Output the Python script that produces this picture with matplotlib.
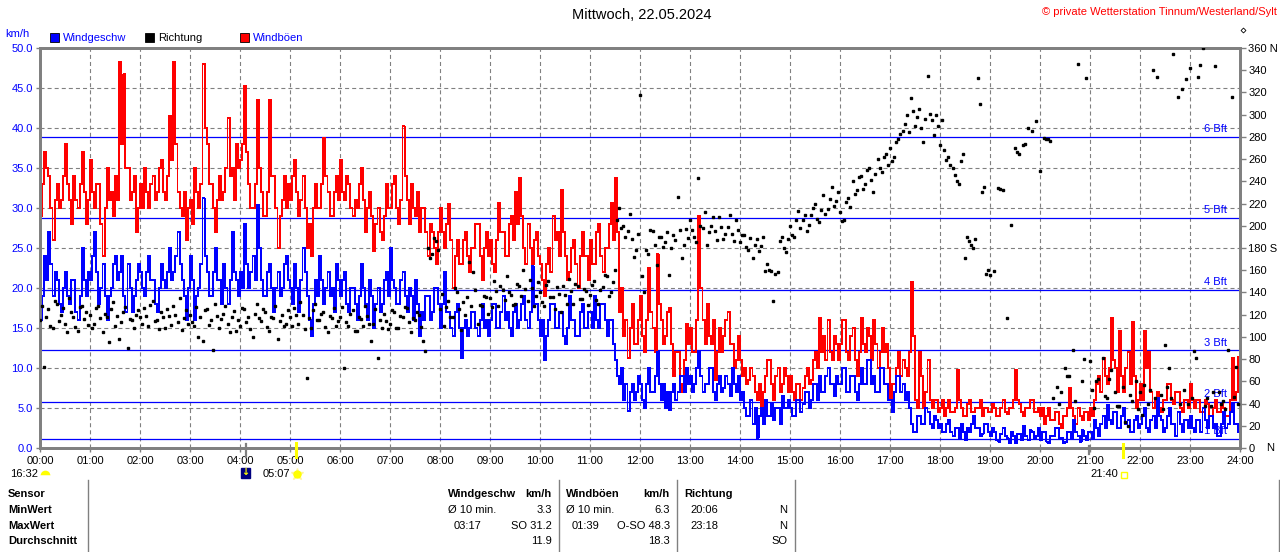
import numpy as np
import matplotlib
matplotlib.use('Agg')
import matplotlib.pyplot as plt
from matplotlib.lines import Line2D
from matplotlib.patches import Rectangle

plt.rcParams['font.family'] = ['Liberation Sans', 'DejaVu Sans']
plt.rcParams['lines.scale_dashes'] = False

nan = float('nan')

# ---------------- data (2.5-minute values, two lines per hour) ----------------
speed_kmh = [
    16, 19, 24, 21, 27, 23, 19, 22, 21, 18, 17, 20,  # 00
    22, 19, 18, 21, 21, 17, 16, 19, 25, 21, 19, 22,
    21, 24, 27, 22, 18, 20, 23, 19, 16, 19, 20, 23,  # 01
    24, 21, 22, 24, 19, 17, 23, 20, 17, 19, 21, 23,
    22, 20, 19, 22, 24, 21, 21, 18, 17, 20, 23, 21,  # 02
    20, 22, 25, 21, 22, 24, 27, 23, 21, 19, 16, 20,
    24, 21, 16, 19, 20, 23, 31.2, 24, 22, 19, 19, 22,  # 03
    25, 21, 21, 18, 23, 20, 18, 21, 27, 22, 21, 19,
    22, 20, 28, 23, 20, 22, 24, 21, 30.4, 25, 21, 19,  # 04
    19, 22, 23, 20, 17, 20, 22, 19, 20, 23, 24, 21,
    20, 18, 23, 20, 17, 21, 25, 22, 19, 16, 14, 18,  # 05
    21, 19, 24, 21, 18, 20, 22, 19, 20, 17, 23, 21,
    19, 21, 22, 18, 17, 20, 20, 18, 16, 19, 23, 20,  # 06
    18, 16, 21, 19, 15, 18, 20, 17, 18, 21, 22, 19,
    25, 21, 20, 18, 18, 21, 22, 19, 17, 20, 19, 16,  # 07
    21, 18, 14, 17, 16, 19, 19, 16, 17, 20, 20, 18,
    15, 18, 22, 17, 17, 15, 14, 17, 18, 15, 11.3, 15,  # 08
    16, 14, 15, 17, 17, 15, 14, 16, 18, 15, 16, 14,
    16, 18, 18, 15, 15, 17, 19, 16, 17, 15, 14, 17,  # 09
    18, 15, 16, 18, 19, 16, 15, 17, 22.7, 18, 18, 16,
    14, 16, 11, 14, 16, 18, 18, 15, 15, 17, 17, 14,  # 10
    13, 15, 19, 16, 16, 14, 14, 17, 18, 15, 15, 17,
    17, 15, 19, 16, 15, 18, 18, 16, 14, 16, 16, 13,  # 11
    11, 9, 8, 10, 6, 8, 4.6, 7, 8, 6, 7, 9,
    8, 6, 5, 8, 10, 7, 7, 9, 12, 8, 6, 8,  # 12
    5, 7, 4.8, 7, 8, 6, 7, 9, 9, 7, 10, 8,
    9, 7, 8, 10, 12, 9, 7, 8, 8, 10, 10, 7,  # 13
    6, 8, 9, 7, 7.5, 9, 8, 6.5, 10, 8, 7, 9,
    6, 7, 5, 4, 4, 6, 3, 5, 1.3, 4, 5, 3,  # 14
    6, 4, 4, 5.5, 3.5, 5, 5, 3, 6.5, 5, 5, 6,
    5, 4, 4, 6, 6, 4.5, 5.5, 7, 7, 5, 6, 8,  # 15
    8, 6, 9, 7, 7, 9, 10, 8, 8, 6.5, 9, 8,
    8, 10, 10, 7, 7, 9, 9, 7, 6, 8, 10, 8,  # 16
    8, 11, 11, 8, 9, 7, 7, 10, 10, 8, 8, 6,
    6, 4.5, 7, 9, 9, 7, 8, 6, 7, 5, 3, 2,  # 17
    2, 4, 4, 3, 3, 5, 4.5, 3, 2.5, 4, 3.5, 2.5,
    3, 2, 2, 3, 3.5, 2, 1.5, 2.5, 2.5, 1.2, 3, 2,  # 18
    1, 2.5, 2, 3, 4, 2.5, 2.5, 1.5, 1.8, 3, 3, 2,
    1.5, 2.5, 2, 1, 0.8, 1.8, 2.5, 1.5, 1.2, 0.6, 2, 1.5,  # 19
    0.6, 1.8, 1.8, 1, 2.8, 1.5, 1, 2.2, 2, 1.2, 1.5, 2.5,
    1, 2, 2, 0.8, 0.6, 1.5, 1.5, 2.5, 2.5, 1.2, 1.2, 0.6,  # 20
    0.8, 2, 2, 1.2, 3.5, 2, 1.5, 0.8, 2.2, 1.5, 1, 2,
    2, 1.2, 3.5, 2.5, 1.5, 3, 4, 2.5, 5.4, 3.5, 3, 4.5,  # 21
    4.5, 2.5, 2.5, 4, 5, 3, 3.5, 2, 2, 3.5, 4, 2.5,
    3, 4, 5, 2.5, 2, 3.5, 4, 2.5, 6.25, 4, 3.5, 2,  # 22
    2.5, 4, 5, 3, 3, 1.5, 4.5, 3, 2, 3.5, 3.5, 2.5,
    4, 2.5, 2, 3.5, 3.5, 2, 5, 3.5, 2.5, 4, 4, 2.5,  # 23
    3, 1.5, 1.5, 3, 4.5, 2.5, 3, 4.5, 5.5, 3, 3, 2,
]

gust_kmh = [
    29, 33, 37, 35, 34, 30, 26, 31, 33, 30, 31, 34,  # 00
    38, 33, 31, 28, 34, 31, 30, 33, 37, 32, 28, 31,
    36, 32, 30, 33, 33, 28, 24, 30, 35, 31, 32, 29,  # 01
    34, 31, 48.3, 38, 46.7, 35, 35, 31, 32, 34, 27, 30,
    33, 30, 35, 32, 30, 33, 34, 31, 32, 35, 36, 32,  # 02
    31, 34, 41.5, 36, 48.3, 38, 32, 30, 29, 32, 26, 30,
    31, 28, 35, 32, 30, 33, 48, 40, 38, 33, 33, 30,  # 03
    27, 31, 34, 31, 32, 35, 41.3, 34, 35, 31, 38, 35,
    36, 38, 45.2, 37, 33, 30, 30, 33, 43.5, 35, 32, 29,  # 04
    29, 32, 43.5, 34, 34, 30, 25, 29, 31, 34, 30, 33,
    31, 34, 36, 32, 29, 31, 34, 30, 25, 28, 24, 30,  # 05
    33, 30, 30, 33, 38.8, 34, 32, 29, 29, 32, 34, 31,
    36, 32, 31, 34, 33, 30, 29, 31, 30, 33, 35, 31,  # 06
    27, 30, 32, 29, 24.6, 28, 30, 27, 26, 29, 33, 30,
    30, 33, 34, 30, 28, 31, 40.2, 34, 31, 28, 33, 30,  # 07
    29, 32, 27, 30, 30, 27, 24, 28, 27, 25, 23, 27,
    30, 27, 25, 28, 30.5, 26, 20, 24, 26, 23, 23, 26,  # 08
    27, 24, 22, 25, 25, 28, 28, 24, 21, 25, 27, 24,
    26, 23, 22, 26, 30.6, 27, 27, 24, 24, 28, 29, 26,  # 09
    32, 28, 33.7, 29, 25, 23, 28, 25, 23, 26, 27, 24,
    23, 21, 19, 23, 25, 22, 29, 26, 27, 24, 32.3, 27,  # 10
    24, 21, 22, 25, 26, 23, 20, 24, 27, 24, 24, 21,
    26, 23, 23, 27, 28, 24, 22, 25, 25, 28, 30.6, 26,  # 11
    33.7, 27, 17, 20, 14, 16, 11.2, 15, 18, 13, 13, 16,
    19, 14, 12, 16, 22.5, 17, 15, 12, 24.2, 18, 16, 13,  # 12
    14, 17, 17.5, 13, 9, 12, 12, 8, 7, 11, 15.5, 13,
    15, 12, 12, 16, 29, 20, 16, 13, 18, 14, 13, 16,  # 13
    8.5, 12, 15, 12, 14, 16, 17, 13, 13, 10, 11, 14,
    11, 9, 10, 8, 8.5, 10, 9, 7, 6, 8, 5, 7,  # 14
    9, 11, 11, 8, 6, 9, 10, 7, 8, 10, 9, 7,
    9, 7, 6, 8, 8, 6, 7.5, 9, 10, 8, 8.5, 11,  # 15
    12, 10, 16.25, 12, 14, 11, 16, 12, 11, 14, 13, 11,
    13, 16, 16, 12, 11, 14, 15, 11, 9, 12, 16.25, 13,  # 16
    12, 15, 14, 11, 16, 13, 10, 12, 15, 12, 13, 10,
    6, 8, 8, 10, 12, 9, 11, 10, 9, 12, 20.8, 14,  # 17
    6, 5, 12, 9, 5, 7, 11, 6, 5, 6, 6, 4.5,
    5, 6, 4, 5, 6, 4.5, 4.5, 5, 9.8, 6, 5, 4,  # 18
    4, 5.5, 6, 4.5, 4.5, 5, 5, 6, 4, 5, 5, 4.5,
    4.5, 5.5, 5, 4, 4, 5, 6, 4.5, 4.2, 5, 5, 6,  # 19
    9.8, 6, 5.5, 4.5, 4, 5, 5, 6, 6, 4.5, 4.5, 5,
    4, 5, 3, 4, 5, 3.5, 3.5, 4.5, 4.5, 3, 2.5, 4,  # 20
    4, 5, 7.5, 5, 4, 3, 5, 4, 3.5, 4.5, 4.5, 3.5,
    5, 4, 6, 8, 9, 7, 11.25, 9, 8, 10, 16.25, 11,  # 21
    10, 7, 14.6, 9, 7, 10, 12, 8, 15.8, 9, 5, 6,
    8, 6, 14.6, 10, 12, 7, 5, 6, 7, 5, 4.5, 6,  # 22
    6, 8, 8, 6, 5.5, 7, 7, 5, 4.5, 6, 6, 5,
    8, 6, 5, 6, 6, 4.5, 4.5, 6, 5.5, 4, 4, 5,  # 23
    6, 4.5, 4.5, 5.5, 5, 4, 4, 6, 11.25, 6, 7, 11.4,
]

direction_deg = [
    115, 128, 73, 118, 125, 110, 108, 132, 130, 114, 120, 126,  # 00
    112, 104, 135, 122, 118, 109, 105, 127, 128, 116, 122, 111,
    120, 108, 112, 126, 128, 117, 104, 121, 118, 95, 125, 131,  # 01
    110, 119, 98, 113, 122, 127, 90, 116, 115, 108, 120, 124,
    118, 112, 126, 119, 110, 129, 132, 114, 115, 107, 122, 118,  # 02
    108, 125, 119, 111, 128, 120, 113, 135, 106, 117, 124, 112,
    120, 113, 110, 127, 100, 118, 96, 124, 125, 111, 115, 88,  # 03
    130, 119, 108, 116, 121, 128, 112, 104, 118, 123, 105, 115,
    110, 126, 125, 113, 118, 107, 100, 121, 130, 117, 114, 125,  # 04
    122, 109, 105, 118, 117, 128, 98, 114, 120, 110, 112, 124,
    118, 110, 126, 120, 112, 131, 120, 107, 63, 117, 108, 124,  # 05
    130, 115, 115, 121, 122, 109, 104, 119, 117, 126, 110, 114,
    118, 127, 72, 113, 110, 121, 124, 105, 105, 118, 116, 110,  # 06
    128, 119, 112, 96, 112, 125, 81, 115, 108, 121, 114, 107,
    112, 124, 122, 108, 108, 119, 118, 127, 126, 113, 104, 117,  # 07
    115, 122, 120, 109, 96, 87, 180, 171, 175, 189, 186, 178,
    125, 139, 110, 127, 132, 118, 118, 144, 140, 125, 106, 131,  # 08
    120, 136, 167, 128, 158, 142, 112, 129, 128, 137, 136, 121,
    135, 127, 150, 141, 128, 146, 142, 133, 155, 140, 138, 129,  # 09
    130, 148, 146, 137, 160, 143, 132, 151, 144, 128, 137, 149,
    140, 131, 128, 147, 150, 136, 136, 125, 145, 139, 122, 146,  # 10
    138, 130, 152, 141, 130, 148, 146, 134, 134, 143, 141, 129,
    138, 147, 150, 133, 130, 142, 145, 156, 155, 137, 140, 149,  # 11
    160, 205, 216, 198, 200, 190, 195, 211, 188, 172, 178, 193,
    318, 155, 140, 178, 175, 196, 195, 183, 165, 190, 190, 181,  # 12
    185, 194, 156, 180, 192, 187, 226, 196, 171, 183, 197, 189,
    205, 196, 190, 185, 243, 200, 198, 212, 183, 194, 200, 208,  # 13
    195, 187, 208, 199, 188, 193, 199, 210, 193, 186, 205, 196,
    185, 192, 192, 181, 178, 189, 171, 183, 188, 177, 182, 190,  # 14
    159, 166, 160, 159, 132, 157, 158, 186, 190, 180, 176, 188,
    200, 192, 190, 205, 213, 198, 205, 210, 195, 201, 210, 216,  # 15
    220, 206, 203, 214, 228, 211, 215, 224, 235, 218, 222, 230,
    212, 204, 205, 221, 225, 217, 240, 229, 232, 244, 245, 233,  # 16
    238, 250, 252, 241, 230, 247, 260, 252, 248, 262, 265, 255,
    270, 258, 262, 275, 278, 283, 285, 292, 300, 284, 315, 303,  # 17
    290, 298, 305, 288, 275, 296, 335, 301, 295, 282, 300, 290,
    273, 295, 268, 259, 262, 255, 252, 246, 240, 238, 258, 265,  # 18
    171, 190, 186, 183, 180, 188, 333, 310, 230, 235, 157, 160,
    156, nan, 159, nan, 234, 233, 232, nan, 117, nan, 201, nan,  # 19
    270, 266, 265, nan, 273, 274, 288, nan, 285, nan, 294, nan,
    249, nan, 279, 278, 278, 276, 45, nan, 55, 40, 50, nan,  # 20
    72, 65, 65, nan, 88, 42, 346, nan, 60, 80, 333, nan,
    78, 52, 36, 60, 62, nan, 81, 47, 45, 62, 70, nan,  # 21
    50, 38, 38, nan, 55, 23, 20, 48, 42, nan, 60, 35,
    50, 30, 57, nan, 40, 52, 340, 45, 334, nan, 48, 35,  # 22
    93, 55, 72, 45, 355, nan, 316, 40, 323, 52, 332, 40,
    342, 45, 87, 81, 334, 345, 360, 38, 45, nan, 38, 50,  # 23
    344, nan, 50, 40, 42, 35, 88, nan, 316, 46, 73, 40,
]

STEP_H = 2.5 / 60.0  # sampling interval in hours

bft_levels = [1.1, 5.8, 12.2, 19.8, 28.8, 38.9]
bft_labels = ['1 Bft', '2 Bft', '3 Bft', '4 Bft', '5 Bft', '6 Bft']
hour_labels = [f"{h:02d}:00" for h in range(25)]
kmh_ticks = [0, 5, 10, 15, 20, 25, 30, 35, 40, 45, 50]
deg_ticks = list(range(0, 361, 20))

title = 'Mittwoch, 22.05.2024'
copyright_txt = '\u00a9 private Wetterstation Tinnum/Westerland/Sylt'
table_rows = ['Sensor', 'MinWert', 'MaxWert', 'Durchschnitt']

# ---------------- figure ----------------
W, H = 1280, 552
fig = plt.figure(figsize=(W / 100, H / 100), dpi=100)


def fx(x):
    return x / W


def fy(y):
    return 1 - y / H


GREY = '#808080'
BLUE = '#0000ff'
RED = '#ff0000'
YELLOW = '#ffff00'

ax = fig.add_axes([fx(40), fy(448), (1240 - 40) / W, (448 - 48) / H])
ax.set_xlim(0, 24)
ax.set_ylim(0, 50)


def step_xy(vals):
    v = np.asarray(vals, dtype=float)
    tt = np.arange(len(v)) * STEP_H
    return np.append(tt, tt[-1] + STEP_H), np.append(v, v[-1])


# grid
for h in range(1, 24):
    ax.axvline(h, color=GREY, lw=0.8, ls=(0, (2.9, 2.2)), zorder=0.5)
for v in kmh_ticks[1:-1]:
    ax.axhline(v, color=GREY, lw=0.8, ls=(0, (2.9, 2.2)), zorder=0.5)

# Beaufort lines
for lvl, lab in zip(bft_levels, bft_labels):
    ax.axhline(lvl, color=BLUE, lw=0.9, zorder=1)
    ax.annotate(lab, xy=(23.73, lvl), xytext=(0, 2), textcoords='offset points',
                ha='right', va='bottom', color=BLUE, fontsize=8, zorder=1)

tg, vg = step_xy(gust_kmh)
ts, vs = step_xy(speed_kmh)
ax.step(tg, vg, where='post', color=RED, lw=0.72, zorder=2, antialiased=False)
ax.step(ts, vs, where='post', color=BLUE, lw=0.72, zorder=3, antialiased=False)

ax.set_xticks(range(25))
ax.set_xticklabels(hour_labels, fontsize=8)
ax.set_yticks(kmh_ticks)
ax.set_yticklabels([f"{v:.1f}" for v in kmh_ticks], fontsize=8, color=BLUE)
ax.tick_params(axis='x', length=3, width=1, color=GREY, pad=3)
ax.tick_params(axis='y', length=3, width=1, color=GREY, pad=2)
for s in ax.spines.values():
    s.set_color(GREY)
    s.set_linewidth(2.0)

ax2 = ax.twinx()
ax2.set_ylim(0, 360)
td = np.arange(len(direction_deg)) * STEP_H
ax2.plot(td, direction_deg, ls='none', marker='s', ms=1.9, color='black',
         mec='black', zorder=4)
ax2.set_yticks(deg_ticks)
rlabels = []
for d in deg_ticks:
    if d == 360:
        rlabels.append('360 N')
    elif d == 180:
        rlabels.append('180 S')
    else:
        rlabels.append(str(d))
ax2.set_yticklabels(rlabels, fontsize=8)
ax2.tick_params(axis='y', length=4, width=1, color=GREY, pad=2)
for s in ax2.spines.values():
    s.set_color(GREY)
    s.set_linewidth(2.0)

fig.text(fx(1266), fy(448), 'N', fontsize=8, ha='left', va='center')

# ---------------- header ----------------
fig.text(fx(642), fy(15), title, ha='center', va='center', fontsize=10.5)
fig.text(fx(1277), fy(12), copyright_txt, ha='right', va='center', color=RED, fontsize=8)
fig.add_artist(Line2D([fx(1243)], [fy(30)], marker='D', ms=2.5, mfc='white',
                      mec='black', mew=0.6, ls='none'))
fig.text(fx(5), fy(34), 'km/h', ha='left', va='center', color=BLUE, fontsize=8)

legend_items = [(50, BLUE, 'Windgeschw', BLUE), (145, 'black', 'Richtung', 'black'),
                (240, RED, 'Windböen', BLUE)]
for x0, fc, lab, tc in legend_items:
    fig.add_artist(Rectangle((fx(x0), fy(42)), 9 / W, 9 / H, facecolor=fc,
                             edgecolor='black', lw=0.6, transform=fig.transFigure))
    fig.text(fx(x0 + 13), fy(38), lab, ha='left', va='center', color=tc, fontsize=8)

# ---------------- sun / moon markers below the axis ----------------
fig.add_artist(Line2D([fx(296), fx(296)], [fy(443), fy(457)], color=YELLOW, lw=2.2))
fig.add_artist(Line2D([fx(1123), fx(1123)], [fy(444), fy(457)], color=YELLOW, lw=2.2))
fig.add_artist(Line2D([fx(246), fx(246)], [fy(444), fy(457)], color=GREY, lw=1.6))
fig.add_artist(Line2D([fx(1089), fx(1089)], [fy(446), fy(454)], color=GREY, lw=1.6))

fig.text(fx(10), fy(474), '16:32', ha='left', va='center', fontsize=8)
fig.add_artist(Line2D([fx(44.5)], [fy(475)], marker='o', ms=7, fillstyle='top',
                      mfc=YELLOW, mfcalt='white', mec='none', ls='none'))
fig.add_artist(Rectangle((fx(241), fy(478)), 9 / W, 10 / H, facecolor='#000080',
                         edgecolor='#000080', transform=fig.transFigure))
fig.text(fx(245.5), fy(472), '\u2193', ha='center', va='center', color=YELLOW,
         fontsize=7, fontweight='bold', family='DejaVu Sans')
fig.text(fx(263), fy(474), '05:07', ha='left', va='center', fontsize=8)
fig.add_artist(Line2D([fx(297)], [fy(474)], marker='*', ms=9, mfc='#fff59a',
                      mec='#fff59a', ls='none'))
fig.add_artist(Line2D([fx(297)], [fy(474)], marker='o', ms=5, mfc=YELLOW,
                      mec=YELLOW, ls='none'))
fig.text(fx(1090), fy(474), '21:40', ha='left', va='center', fontsize=8)
fig.add_artist(Line2D([fx(1123.5)], [fy(474.5)], marker='s', ms=4, mfc='white',
                      mec=YELLOW, mew=1.0, ls='none'))

# ---------------- table ----------------
row_y = [494, 510, 526, 541]
for lab, y in zip(table_rows, row_y):
    fig.text(fx(8), fy(y), lab, ha='left', va='center', fontsize=8, fontweight='bold')

for xs in [88, 559, 677, 795, 1279]:
    fig.add_artist(Line2D([fx(xs), fx(xs)], [fy(480), fy(552)], color=GREY, lw=1.0))

cells = [
    (448, 494, 'Windgeschw', 'left', True), (552, 494, 'km/h', 'right', True),
    (448, 510, 'Ø 10 min.', 'left', False), (552, 510, '3.3', 'right', False),
    (454, 526, '03:17', 'left', False), (552, 526, 'SO 31.2', 'right', False),
    (552, 541, '11.9', 'right', False),
    (566, 494, 'Windböen', 'left', True), (670, 494, 'km/h', 'right', True),
    (566, 510, 'Ø 10 min.', 'left', False), (670, 510, '6.3', 'right', False),
    (572, 526, '01:39', 'left', False), (670, 526, 'O-SO 48.3', 'right', False),
    (670, 541, '18.3', 'right', False),
    (684, 494, 'Richtung', 'left', True),
    (690, 510, '20:06', 'left', False), (787, 510, 'N', 'right', False),
    (690, 526, '23:18', 'left', False), (787, 526, 'N', 'right', False),
    (787, 541, 'SO', 'right', False),
]
for x, y, txt, ha, bold in cells:
    fig.text(fx(x), fy(y), txt, ha=ha, va='center', fontsize=8,
             fontweight='bold' if bold else 'normal')

fig.savefig('out.png', dpi=100)
